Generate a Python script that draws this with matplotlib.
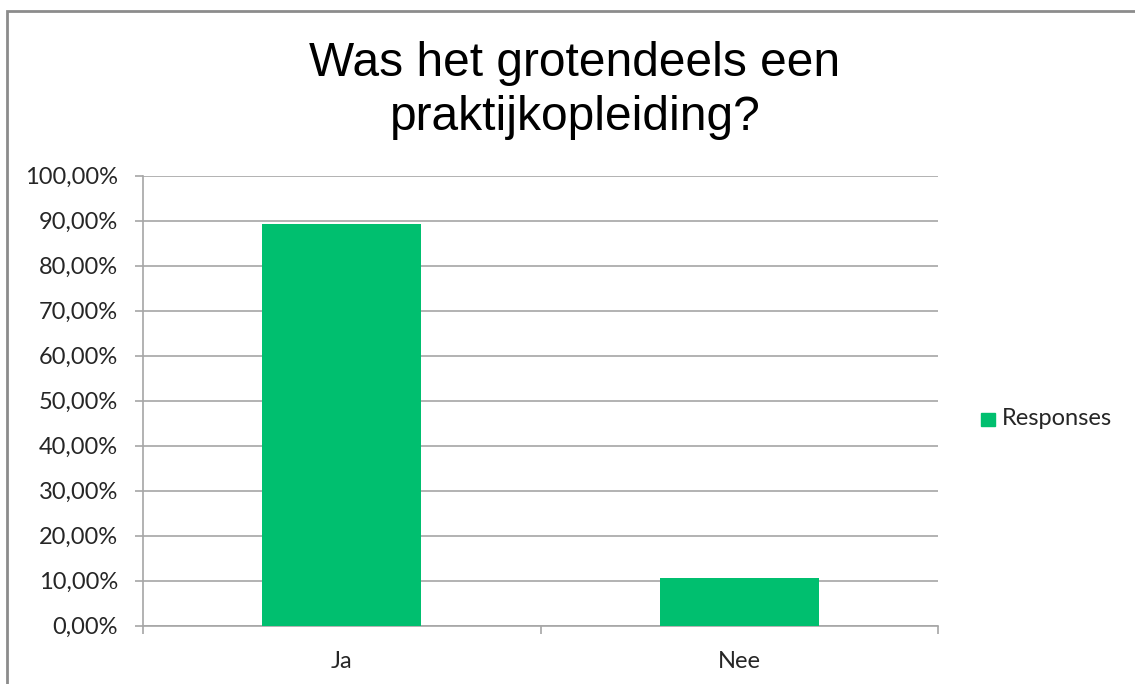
import matplotlib
matplotlib.use('Agg')
import matplotlib.pyplot as plt
from matplotlib.patches import Rectangle
from matplotlib.ticker import FuncFormatter, FixedLocator

categories = ['Ja', 'Nee']
responses = [89.29, 10.71]
series_name = 'Responses'
title = 'Was het grotendeels een\npraktijkopleiding?'

green = '#00bf6f'
grid_grey = '#a6a6a6'
W, H = 1135, 684

fig = plt.figure(figsize=(W / 100, H / 100), dpi=100)

# plot area in pixel terms
left, right, top, bottom = 143, 938, 175.7, 625.7
ax = fig.add_axes([left / W, 1 - bottom / H, (right - left) / W, (bottom - top) / H])

xs = list(range(len(categories)))
ax.bar(xs, responses, width=0.4, color=green, zorder=3, label=series_name)

ax.set_xlim(-0.5, len(categories) - 0.5)
ax.set_ylim(0, 100)
ax.set_yticks(range(0, 101, 10))
ax.yaxis.set_major_formatter(FuncFormatter(lambda v, p: f'{v:.2f}%'.replace('.', ',')))
ax.yaxis.grid(True, color=grid_grey, linewidth=1.2)
ax.set_axisbelow(True)

ax.set_xticks(xs)
ax.set_xticklabels(categories)
ax.xaxis.set_minor_locator(FixedLocator([-0.5, 0.5, 1.5]))
ax.tick_params(axis='x', which='major', length=0, pad=18)
ax.tick_params(axis='x', which='minor', length=6, width=1.2, color=grid_grey, direction='out')
ax.tick_params(axis='y', length=6, width=1.2, color=grid_grey, direction='out', pad=12)

for lab in ax.get_xticklabels() + ax.get_yticklabels():
    lab.set_fontfamily('Lato')
    lab.set_fontsize(17)
    lab.set_color('#262626')

for side in ['top', 'right']:
    ax.spines[side].set_visible(False)
for side in ['left', 'bottom']:
    ax.spines[side].set_color(grid_grey)
    ax.spines[side].set_linewidth(1.2)

fig.text(575 / W, 1 - 130 / H, title, ha='center', va='baseline',
         fontsize=34.5, family='Liberation Sans', linespacing=1.25)

# legend
fig.patches.append(Rectangle((981 / W, 1 - 426 / H), 14 / W, 13 / H,
                             transform=fig.transFigure, color=green))
fig.text(1002 / W, 1 - 425 / H, series_name, ha='left', va='baseline',
         fontsize=17, family='Lato', color='#262626')

# chart border
fig.patches.append(Rectangle((7 / W, -0.1), 1.2, 1.1 - 11 / H, transform=fig.transFigure,
                             fill=False, edgecolor='#8c8c8c', linewidth=2))

fig.savefig('out.png', dpi=100)
